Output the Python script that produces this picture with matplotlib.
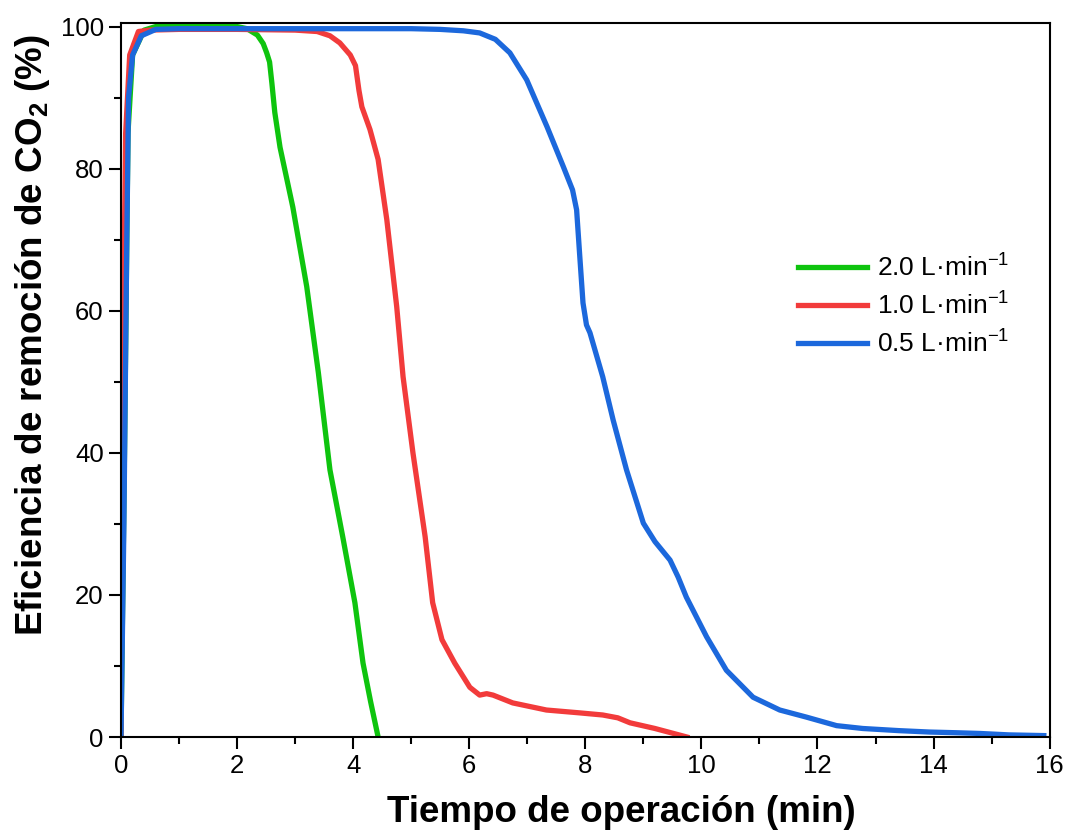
import numpy as np
import matplotlib
matplotlib.use("Agg")
import matplotlib.pyplot as plt
from matplotlib.ticker import MultipleLocator

plt.rcParams["font.family"] = ["Liberation Sans", "DejaVu Sans"]
plt.rcParams["mathtext.fontset"] = "custom"
plt.rcParams["mathtext.rm"] = "Liberation Sans"
plt.rcParams["mathtext.bf"] = "Liberation Sans:bold"
plt.rcParams["mathtext.default"] = "regular"

# 2.0 L/min
t_green = [0, 0.06, 0.12, 0.2, 0.4, 0.6, 1.0, 2.0, 2.17, 2.35, 2.45, 2.51, 2.56,
           2.6, 2.65, 2.74, 2.96, 3.2, 3.4, 3.6, 3.82, 4.03, 4.17, 4.3, 4.43]
v_green = [0, 40, 85, 96, 99.5, 100, 100, 100, 99.7, 98.8, 97.6, 96.3, 95,
           92, 87.9, 83, 74.6, 63.4, 51.3, 37.6, 28.2, 18.9, 10.4, 5, 0]

# 1.0 L/min
t_red = [0, 0.03, 0.08, 0.15, 0.3, 0.5, 1.0, 2.0, 3.0, 3.38, 3.6, 3.77, 3.95,
         4.04, 4.1, 4.15, 4.29, 4.43, 4.58, 4.75, 4.86, 5.03, 5.24, 5.37, 5.53,
         5.75, 6.01, 6.18, 6.3, 6.41, 6.75, 7.33, 7.9, 8.3, 8.56, 8.77, 9.2,
         9.75]
v_red = [0, 50, 85, 96, 99.3, 99.5, 99.6, 99.6, 99.5, 99.3, 98.7, 97.7, 96,
         94.5, 91, 88.7, 85.5, 81.3, 72.8, 60.6, 50.7, 40, 28.2, 18.9, 13.7,
         10.4, 7.0, 5.9, 6.1, 5.9, 4.8, 3.8, 3.4, 3.1, 2.7, 2.0, 1.2,
         0]

# 0.5 L/min
t_blue = [0, 0.05, 0.1, 0.13, 0.2, 0.35, 0.6, 1.0, 2.0, 3.0, 4.0, 5.0, 5.5,
          5.9, 6.18, 6.45, 6.7, 6.99, 7.34, 7.62, 7.78, 7.85, 7.9, 7.96, 8.02,
          8.08, 8.3, 8.48, 8.71, 9.0, 9.2, 9.46, 9.6, 9.74, 10.09, 10.43, 10.89,
          11.35, 11.81, 12.33, 12.78, 13.4, 13.93, 14.4, 14.8, 15.3, 15.9]
v_blue = [0, 30, 70, 90, 96, 98.7, 99.6, 99.7, 99.7, 99.7, 99.7, 99.7, 99.6,
          99.4, 99.1, 98.2, 96.3, 92.5, 85.9, 80.3, 77, 74.2, 68.2, 61.1, 58,
          56.9, 50.7, 44.6, 37.6, 30.1, 27.5, 24.9, 22.5, 19.7, 14.1, 9.4, 5.6,
          3.8, 2.8, 1.6, 1.2, 0.9, 0.7, 0.6, 0.5, 0.3, 0.2]

series = [
    (t_green, v_green, "#0ec40e", "2.0 L·min$^{-1}$"),
    (t_red, v_red, "#f23b3b", "1.0 L·min$^{-1}$"),
    (t_blue, v_blue, "#1c68dc", "0.5 L·min$^{-1}$"),
]

fig = plt.figure(figsize=(10.68, 8.36), dpi=100)
ax = fig.add_axes([0.1133, 0.1184, 0.8695, 0.8541])

for t, v, c, lab in series:
    ax.plot(t, v, color=c, lw=3.8, label=lab, solid_joinstyle="round")

ax.set_xlim(0, 16)
ax.set_ylim(0, 100.5)
ax.xaxis.set_major_locator(MultipleLocator(2))
ax.xaxis.set_minor_locator(MultipleLocator(1))
ax.yaxis.set_major_locator(MultipleLocator(20))
ax.yaxis.set_minor_locator(MultipleLocator(10))
ax.tick_params(which="major", direction="out", length=8.5, width=1.5,
               labelsize=18.5, pad=4)
ax.tick_params(which="minor", direction="out", length=5, width=1.5)
for s in ax.spines.values():
    s.set_linewidth(1.5)

ax.set_xlabel("Tiempo de operación (min)", fontsize=26.5, fontweight="bold",
              labelpad=12)
ax.set_ylabel(r"Eficiencia de remoción de CO$_\mathbf{2}$ (%)", fontsize=26.5,
              fontweight="bold", labelpad=6)
ax.xaxis.label.set_x(0.539)
ax.yaxis.label.set_y(0.563)

ax.legend(loc="upper left", bbox_to_anchor=(0.7035, 0.709), frameon=False,
          fontsize=19, handlelength=2.6, handletextpad=0.4, labelspacing=0.4)

fig.savefig("out.png", dpi=100)
